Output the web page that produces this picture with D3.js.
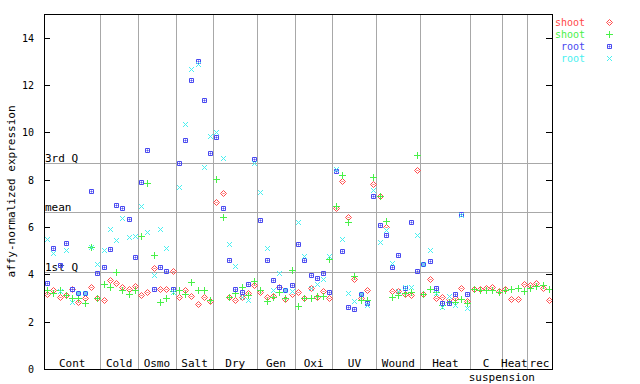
<!DOCTYPE html>
<html>
<head>
<meta charset="utf-8">
<script src="https://cdn.jsdelivr.net/npm/d3@7"></script>
<style>
  body { margin: 0; background: #fff; }
  text { font-family: "DejaVu Sans Mono", monospace; fill: #000; }
</style>
</head>
<body>
<div id="chart"></div>
<script>
// groups along the x axis and how many samples each has
let groups = ["Cont", "Cold", "Osmo", "Salt", "Dry", "Gen", "Oxi", "UV", "Wound", "Heat", "C", "Heat", "rec"];
let groupSizes = [9, 6, 6, 6, 7, 6, 6, 7, 7, 8, 5, 4, 4];

// shoot replicate 1 (red)
let shoot1 = [3.16, 3.34, 3.03, 3.13, 3.37, 2.82, 2.99, 3.48, 3.0,
  2.92, 3.76, 3.62, 3.45, 3.37, 3.5,
  3.13, 3.25, 4.25, 3.37, 3.37, 4.14,
  3.03, 3.35, 3.07, 2.73, 3.03, 2.88,
  7.04, 7.42, 3.03, 2.9, 3.05, 3.2, 3.54,
  3.24, 3.03, 3.07, 3.45, 2.94, 3.16,
  3.24, 2.99, 3.41, 3.06, 3.28, 2.99,
  6.79, 7.96, 6.41, 3.79, 2.99, 3.34, 7.8,
  7.33, 5.99, 3.28, 3.28, 3.16, 3.11, 8.39,
  3.16, 3.79, 3.0, 3.03, 2.94, 3.0, 3.41, 2.89,
  3.38, 3.37, 3.44, 3.46, 3.31,
  3.37, 2.94, 2.94, 3.59,
  3.56, 3.63, 3.41, 2.92];

// shoot replicate 2 (green)
let shoot2 = [3.34, 3.2, 3.34, 3.13, 3.01, 3.0, 2.78, 5.14, 3.01,
  3.58, 3.48, 4.08, 3.34, 3.16, 3.34,
  5.62, 7.85, 4.82, 2.84, 2.99, 3.3,
  3.34, 3.18, 3.66, 3.32, 3.32, 2.9,
  8.01, 6.41, 3.03, 3.2, 3.48, 3.11, 3.7,
  3.32, 2.86, 3.03, 3.24, 3.0, 4.17,
  2.67, 2.99, 2.99, 3.07, 3.08, 4.65,
  6.89, 8.2, 6.22, 3.94, 2.92, 2.9, 8.1,
  7.33, 6.24, 3.03, 3.13, 3.2, 3.27, 9.04,
  3.16, 3.37, 3.24, 2.7, 2.85, 2.84, 2.97, 2.78,
  3.38, 3.35, 3.35, 3.35, 3.27,
  3.34, 3.37, 3.41, 3.28,
  3.41, 3.51, 3.55, 3.38];

// root replicate 1 (blue), no root samples for the cell suspension
let root1 = [3.62, 5.1, 4.39, 5.31, 3.37, 3.2, 3.2, 7.52, 4.04,
  4.3, 5.06, 6.93, 6.79, 6.32, 4.72,
  7.89, 9.25, 3.37, 4.3, 4.14, 3.37,
  8.69, 9.66, 12.2, 13.0, 11.35, 9.11,
  9.79, 6.79, 4.59, 3.37, 3.24, 3.58, 8.86,
  6.28, 4.59, 3.75, 3.45, 3.32, 3.54,
  5.27, 4.59, 3.96, 3.83, 4.04, 3.24,
  8.38, 4.97, 2.61, 2.52, 3.16, 2.78, 7.3,
  6.07, 5.65, 4.3, 4.8, 3.41, 6.2, 4.13,
  4.42, 4.55, 3.41, 2.78, 2.78, 3.16, 6.54, 3.16];

// root replicate 2 (cyan)
let root2 = [5.49, 4.91, 3.3, 5.03, 2.84, 3.2, 3.2, 5.14, 4.43,
  5.03, 5.9, 5.44, 6.37, 5.56, 5.62,
  6.89, 5.8, 3.97, 5.9, 5.1, 3.24,
  7.68, 10.34, 12.66, 12.9, 8.52, 9.83,
  10.0, 8.9, 5.28, 4.34, 3.03, 2.9, 8.69,
  7.47, 5.1, 3.32, 4.04, 3.32, 3.3,
  6.2, 4.76, 3.41, 3.58, 3.79, 4.77,
  8.45, 5.48, 3.2, 2.86, 3.16, 2.7, 7.56,
  5.35, 5.87, 4.47, 3.3, 3.45, 3.45, 5.65,
  4.42, 5.03, 3.2, 2.61, 3.08, 2.69, 6.49, 2.56];

let refLines = [{label: "1st Q", value: 4.09}, {label: "mean", value: 6.62}, {label: "3rd Q", value: 8.69}];
let yTicks = [0, 2, 4, 6, 8, 10, 12, 14];

let series = [
  {name: "shoot", values: shoot1, color: "#ff4848", shape: "diamond"},
  {name: "shoot", values: shoot2, color: "#48f048", shape: "plus"},
  {name: "root", values: root1, color: "#4848f0", shape: "square"},
  {name: "root", values: root2, color: "#48f0f0", shape: "cross"}
];

let margin = {top: 14, right: 88, bottom: 15, left: 44},
    width = 640 - margin.left - margin.right,
    height = 384 - margin.top - margin.bottom;

let nSamples = d3.sum(groupSizes);

let x = d3.scaleLinear()
          .domain([0, nSamples])
          .range([0, width]);
let y = d3.scaleLinear()
          .domain([0, 15])
          .range([height, 0]);

let svg = d3.select("#chart")
            .append("svg")
            .attr("width", 640)
            .attr("height", 384)
            .append("g")
            .attr("transform", "translate(" + margin.left + "," + margin.top + ")");

// group boundaries
let starts = [];
let acc = 0;
groupSizes.forEach(function(n) { starts.push(acc); acc += n; });

svg.selectAll(".sep")
   .data(starts.slice(1))
   .enter().append("line")
    .attr("x1", function(d) { return Math.round(x(d)) + 0.5; })
    .attr("x2", function(d) { return Math.round(x(d)) + 0.5; })
    .attr("y1", 0)
    .attr("y2", height)
    .attr("stroke", "#a8a8a8");

svg.selectAll(".ref")
   .data(refLines)
   .enter().append("line")
    .attr("x1", 0)
    .attr("x2", width)
    .attr("y1", function(d) { return Math.round(y(d.value)) + 0.5; })
    .attr("y2", function(d) { return Math.round(y(d.value)) + 0.5; })
    .attr("stroke", "#a8a8a8");

svg.selectAll(".reflabel")
   .data(refLines)
   .enter().append("text")
    .attr("x", 1)
    .attr("y", function(d) { return Math.round(y(d.value)) - 1; })
    .style("font-size", "11px")
    .text(function(d) { return d.label; });

// markers
function markerPath(shape) {
  if (shape == "diamond") return "M0,-3L3,0L0,3L-3,0Z M0,-0.5L0.5,0L0,0.5L-0.5,0Z";
  if (shape == "plus") return "M-3.5,0H3.5M0,-3.5V3.5";
  if (shape == "square") return "M-2,-2H2V2H-2Z M-0.5,-0.5H0.5V0.5H-0.5Z";
  return "M-2.5,-2.5L2.5,2.5M-2.5,2.5L2.5,-2.5";
}

series.forEach(function(s) {
  let pts = s.values.map(function(v, i) { return {i: i, v: v}; })
                    .filter(function(d) { return d.v != null; });
  svg.selectAll(".pt-" + s.shape)
     .data(pts)
     .enter().append("path")
      .attr("transform", function(d) {
        return "translate(" + (Math.round(x(d.i + 0.5)) + 0.5) + "," + (Math.round(y(d.v)) + 0.5) + ")";
      })
      .attr("d", markerPath(s.shape))
      .attr("fill", "none")
      .attr("stroke", s.color)
      .attr("stroke-width", 1);
});

// frame and ticks
svg.append("rect")
   .attr("x", 0.5)
   .attr("y", 0.5)
   .attr("width", width)
   .attr("height", height)
   .attr("fill", "none")
   .attr("stroke", "#000");

svg.selectAll(".ltick")
   .data(yTicks)
   .enter().append("line")
    .attr("x1", 0).attr("x2", 6)
    .attr("y1", function(d) { return Math.round(y(d)) + 0.5; })
    .attr("y2", function(d) { return Math.round(y(d)) + 0.5; })
    .attr("stroke", "#000");

svg.selectAll(".rtick")
   .data(yTicks)
   .enter().append("line")
    .attr("x1", width - 6).attr("x2", width)
    .attr("y1", function(d) { return Math.round(y(d)) + 0.5; })
    .attr("y2", function(d) { return Math.round(y(d)) + 0.5; })
    .attr("stroke", "#000");

svg.selectAll(".ylab")
   .data(yTicks)
   .enter().append("text")
    .attr("x", -10)
    .attr("y", function(d) { return y(d) + 4; })
    .attr("text-anchor", "end")
    .style("font-size", "10px")
    .text(function(d) { return d; });

svg.append("text")
   .attr("transform", "rotate(-90)")
   .attr("x", -(y(7.5)))
   .attr("y", -29)
   .attr("text-anchor", "middle")
   .style("font-size", "11px")
   .text("affy-normalized expression");

// group labels inside the plot
svg.selectAll(".glab")
   .data(groups)
   .enter().append("text")
    .attr("x", function(d, k) { return x(starts[k] + groupSizes[k] / 2); })
    .attr("y", height - 2)
    .attr("text-anchor", "middle")
    .style("font-size", "11px")
    .text(function(d) { return d; });

svg.append("text")
   .attr("x", x(starts[11]))
   .attr("y", height + 12)
   .attr("text-anchor", "middle")
   .style("font-size", "11px")
   .text("suspension");

// legend
let legend = svg.selectAll(".legend")
                .data(series)
                .enter().append("g")
                .attr("transform", function(d, k) { return "translate(" + (width + 33) + "," + (8 + k * 12) + ")"; });

legend.append("text")
      .attr("x", 0)
      .attr("y", 4)
      .attr("text-anchor", "end")
      .style("font-size", "10px")
      .style("fill", function(d) { return d.color; })
      .text(function(d) { return d.name; });

legend.append("path")
      .attr("transform", "translate(24.5,0.5)")
      .attr("d", function(d) { return markerPath(d.shape); })
      .attr("fill", "none")
      .attr("stroke", function(d) { return d.color; });
</script>
</body>
</html>
